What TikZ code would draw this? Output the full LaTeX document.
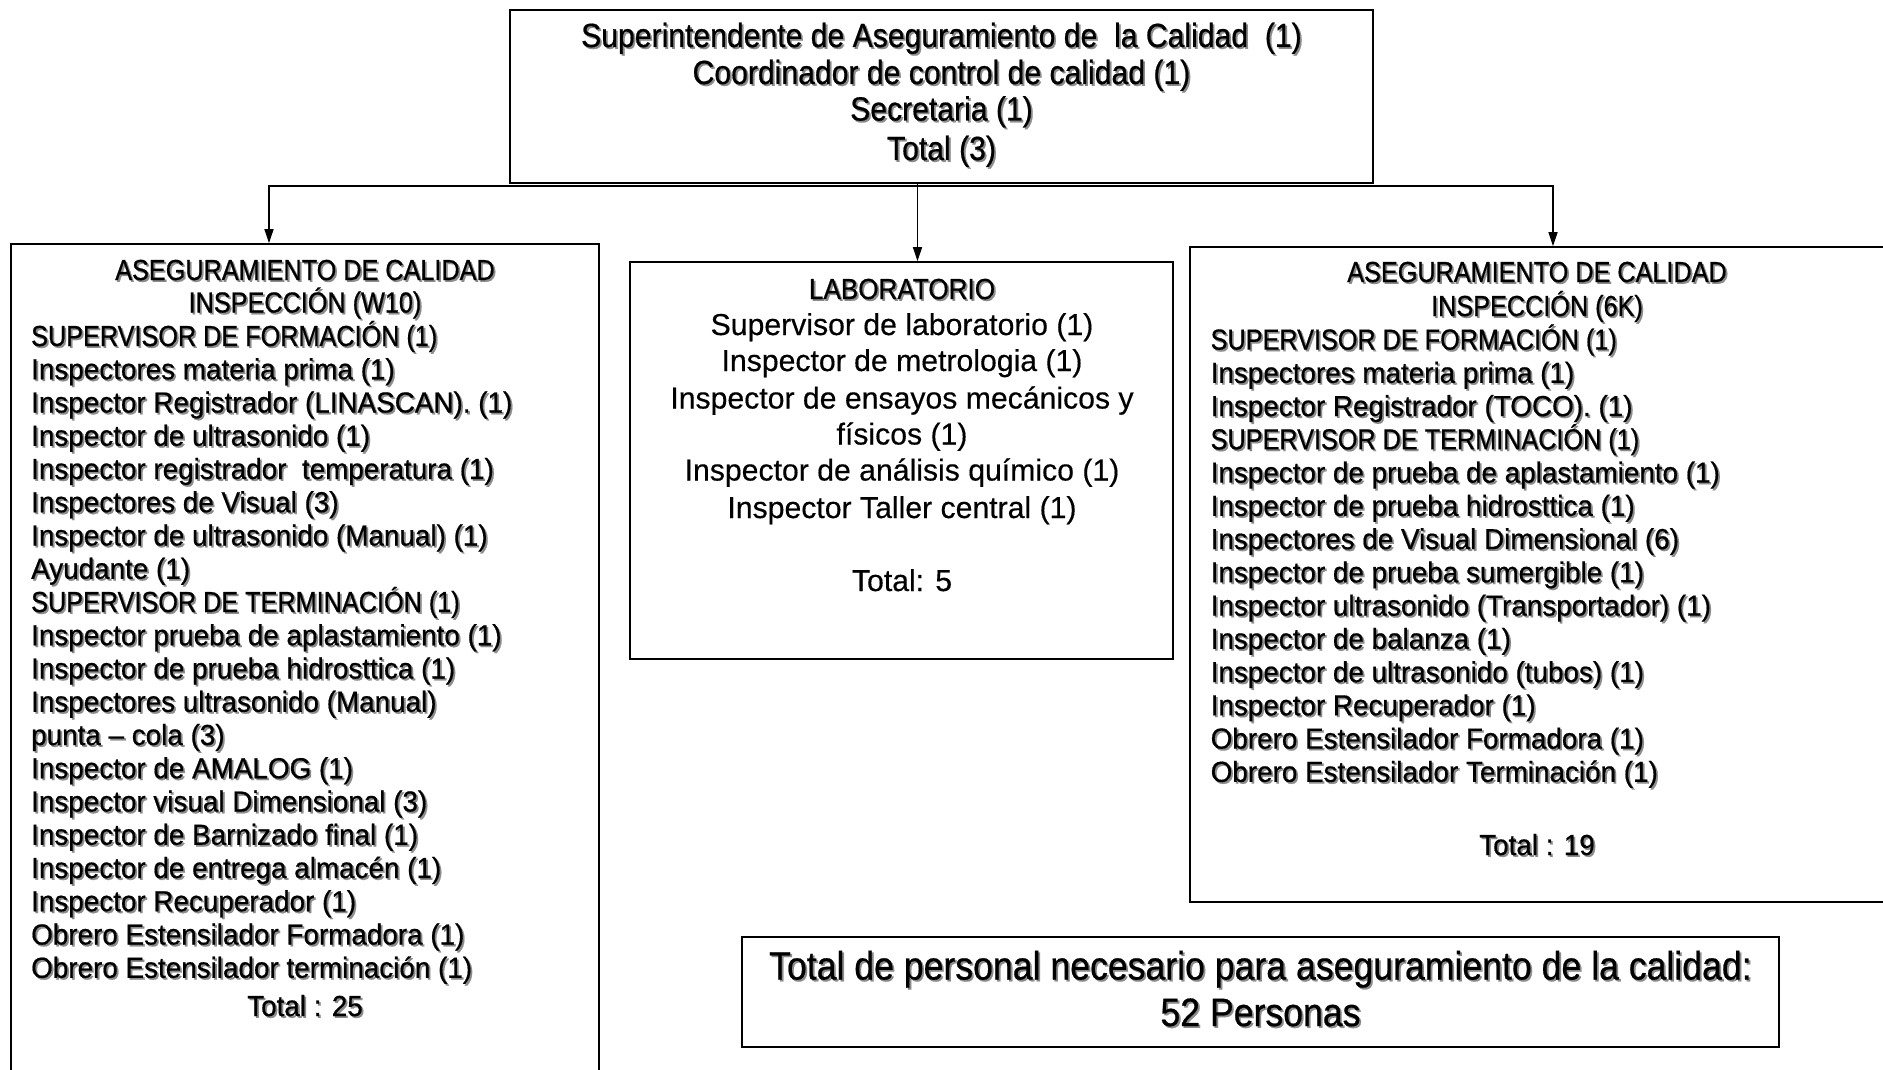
\documentclass[tikz,border=0pt]{standalone}
\usepackage{fontspec}
\setmainfont{Liberation Sans}[FakeStretch=0.96,FakeBold=0.6]
\newfontfamily\condfont{Liberation Sans}[FakeStretch=0.9,FakeBold=0.6]
\newfontfamily\capsfont{Liberation Sans}[FakeStretch=0.87,FakeBold=0.6]
\newfontfamily\widefont{Liberation Sans}[FakeBold=0.4]
\usetikzlibrary{arrows.meta,calc}
\definecolor{shade}{gray}{0.55}

% text drawn with a soft grey drop shadow underneath
\newcommand\shnode[4]{%
  \node[txt,#1,text=shade,xshift=1.8pt,yshift=-1.8pt] (#2-s) at (#3) {#4};
  \node[txt,#1] (#2) at (#3) {#4};}

\tikzset{
  box/.style={draw, line width=1.6pt, rectangle, inner sep=0pt},
  conn/.style={line width=1.4pt, line cap=rect, -{Triangle[length=14pt,width=9pt]}},
  txt/.style={inner sep=0pt, text height=0.75em, text depth=0.25em, yshift=-8.5pt},
  topfont/.style={font=\condfont\fontsize{33.5}{37}\selectfont},
  lstfont/.style={font=\fontsize{29}{33}\selectfont},
  capfont/.style={font=\capsfont\fontsize{29}{33}\selectfont},
  labhead/.style={font=\condfont\fontsize{29}{33}\selectfont},
  labfont/.style={font=\widefont\fontsize{30.2}{36}\selectfont},
  sumfont/.style={font=\condfont\fontsize{39.6}{47}\selectfont, yshift=-1.5pt},
}

\begin{document}
\begin{tikzpicture}[x=1pt,y=-1pt]
\useasboundingbox (0,0) rectangle (1883,1070);
\clip (0,0) rectangle (1883,1070);

% boxes
\node[box, minimum width=863pt, minimum height=173pt] (top) at (941.5,96.5) {};
\node[box, minimum width=588pt, minimum height=846pt] (boxL) at (305,667) {};
\node[box, minimum width=543pt, minimum height=397pt] (boxM) at (901.5,460.5) {};
\node[box, minimum width=710pt, minimum height=655pt] (boxR) at (1545,574.5) {};
\node[box, minimum width=1037pt, minimum height=110pt] (boxT) at (1260.5,992) {};

% connectors
\coordinate (busL) at (269,186);
\coordinate (busR) at (1553,186);
\coordinate (busM) at (917.5,186);
\draw[line width=1.4pt, line cap=rect] (busL) -- (busR);
\draw[conn] (busL) -- (busL |- boxL.north);
\draw[conn] (busR) -- (busR |- boxR.north);
\draw[conn] (busM |- top.south) -- (busM |- boxM.north);

% head office
\shnode{topfont}{t1}{941.5,36}{Superintendente de Aseguramiento de\ \ la Calidad\ \ (1)}
\shnode{topfont}{t2}{941.5,73}{Coordinador de control de calidad (1)}
\shnode{topfont}{t3}{941.5,109.5}{Secretaria (1)}
\shnode{topfont}{t4}{941.5,149}{Total (3)}

% W10 inspection
\shnode{capfont}{Lh1}{305,269}{ASEGURAMIENTO DE CALIDAD}
\shnode{capfont}{Lh2}{305,301.5}{INSPECCIÓN (W10)}
\foreach \t/\f [count=\i] in {%
  {SUPERVISOR DE FORMACIÓN (1)}/capfont,
  {Inspectores materia prima (1)}/lstfont,
  {Inspector Registrador (LINASCAN). (1)}/lstfont,
  {Inspector de ultrasonido (1)}/lstfont,
  {Inspector registrador\ \ temperatura (1)}/lstfont,
  {Inspectores de Visual (3)}/lstfont,
  {Inspector de ultrasonido (Manual) (1)}/lstfont,
  {Ayudante (1)}/lstfont,
  {SUPERVISOR DE TERMINACIÓN (1)}/capfont,
  {Inspector prueba de aplastamiento (1)}/lstfont,
  {Inspector de prueba hidrosttica (1)}/lstfont,
  {Inspectores ultrasonido (Manual)}/lstfont,
  {punta – cola (3)}/lstfont,
  {Inspector de AMALOG (1)}/lstfont,
  {Inspector visual Dimensional (3)}/lstfont,
  {Inspector de Barnizado final (1)}/lstfont,
  {Inspector de entrega almacén (1)}/lstfont,
  {Inspector Recuperador (1)}/lstfont,
  {Obrero Estensilador Formadora (1)}/lstfont,
  {Obrero Estensilador terminación (1)}/lstfont}
{\shnode{\f,anchor=west}{L\i}{31,335+33.25*\i-33.25}{\t}}
\shnode{lstfont}{Ltot}{305,1005}{Total : 25}

% laboratory
\shnode{labhead}{Mh}{902,288}{LABORATORIO}
\foreach \t/\y [count=\i] in {%
  {Supervisor de laboratorio (1)}/324,
  {Inspector de metrologia (1)}/360,
  {Inspector de ensayos mecánicos y}/397.5,
  {físicos (1)}/433.5,
  {Inspector de análisis químico (1)}/469.5,
  {Inspector Taller central (1)}/507,
  {Total: 5}/580}
{\node[txt,labfont] (M\i) at (902,\y) {\t};}

% 6K inspection
\shnode{capfont}{Rh1}{1537,271}{ASEGURAMIENTO DE CALIDAD}
\shnode{capfont}{Rh2}{1537,305}{INSPECCIÓN (6K)}
\foreach \t/\f [count=\i] in {%
  {SUPERVISOR DE FORMACIÓN (1)}/capfont,
  {Inspectores materia prima (1)}/lstfont,
  {Inspector Registrador (TOCO). (1)}/lstfont,
  {SUPERVISOR DE TERMINACIÓN (1)}/capfont,
  {Inspector de prueba de aplastamiento (1)}/lstfont,
  {Inspector de prueba hidrosttica (1)}/lstfont,
  {Inspectores de Visual Dimensional (6)}/lstfont,
  {Inspector de prueba sumergible (1)}/lstfont,
  {Inspector ultrasonido (Transportador) (1)}/lstfont,
  {Inspector de balanza (1)}/lstfont,
  {Inspector de ultrasonido (tubos) (1)}/lstfont,
  {Inspector Recuperador (1)}/lstfont,
  {Obrero Estensilador Formadora (1)}/lstfont,
  {Obrero Estensilador Terminación (1)}/lstfont}
{\shnode{\f,anchor=west}{R\i}{1210.5,338.6+33.25*\i-33.25}{\t}}
\shnode{lstfont}{Rtot}{1537,844}{Total : 19}

% grand total
\shnode{sumfont}{g1}{1260.5,967}{Total de personal necesario para aseguramiento de la calidad:}
\shnode{sumfont}{g2}{1260.5,1013.5}{52 Personas}
\end{tikzpicture}
\end{document}
